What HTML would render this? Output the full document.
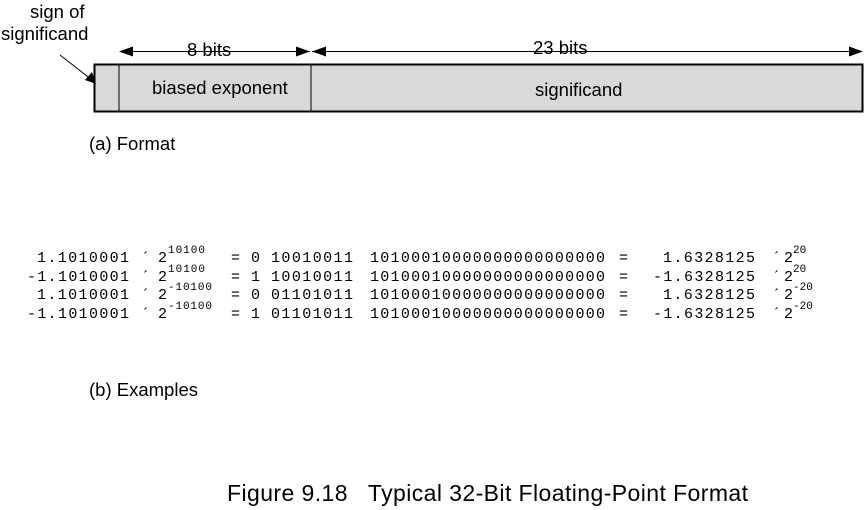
<!DOCTYPE html>
<html><head><style>
body{margin:0;background:#fff;}
svg{display:block}
.s{font-family:"Liberation Sans",Arial,sans-serif;fill:#000}
.m{font-family:"Liberation Mono",monospace;font-size:15px;fill:#000}
.p{font-family:"Liberation Mono",monospace;font-size:11px;fill:#000}
</style></head><body>
<svg width="865" height="510" viewBox="0 0 865 510">
<rect x="94.5" y="64.5" width="768" height="47" fill="#d9d9d9" stroke="#000" stroke-width="2"/>
<line x1="119" y1="64" x2="119" y2="111" stroke="#000"/>
<line x1="311" y1="64" x2="311" y2="111" stroke="#000"/>
<line x1="120" y1="51.5" x2="310" y2="51.5" stroke="#000"/>
<line x1="312" y1="51.5" x2="862" y2="51.5" stroke="#000"/>
<polygon points="119,51.5 133,46.5 133,56.5" fill="#000"/>
<polygon points="310,51.5 296,46.5 296,56.5" fill="#000"/>
<polygon points="312,51.5 326,46.5 326,56.5" fill="#000"/>
<polygon points="863,51.5 849,46.5 849,56.5" fill="#000"/>
<rect x="185" y="38" width="52" height="13" fill="#fff"/>
<text class="s" x="187" y="56" font-size="18.5">8 bits</text>
<rect x="531" y="38" width="59" height="13" fill="#fff"/>
<text class="s" x="533" y="54" font-size="18.5">23 bits</text>
<text class="s" x="152" y="94" font-size="18.5">biased exponent</text>
<text class="s" x="535" y="96" font-size="18.5">significand</text>
<text class="s" x="30" y="18" font-size="18.5">sign of</text>
<text class="s" x="1" y="40" font-size="18.5">significand</text>
<line x1="60" y1="55" x2="92" y2="80" stroke="#000"/>
<polygon points="96,84 85,80 92,72" fill="#000"/>
<text class="s" x="89" y="150" font-size="18.5">(a) Format</text>
<text class="s" x="89" y="396" font-size="18.5">(b) Examples</text>
<text class="s" x="227" y="501" font-size="23" textLength="521" xml:space="preserve">Figure 9.18   Typical 32-Bit Floating-Point Format</text>
<g>
<text class="m" x="37" y="262" textLength="92">1.1010001</text><text class="m" x="141" y="262">´</text><text class="m" x="158" y="262">2</text><text class="p" x="168" y="253" textLength="37">10100</text>
<text class="m" x="231" y="262">=</text><text class="m" x="251" y="262">0</text><text class="m" x="271" y="262" textLength="82">10010011</text><text class="m" x="370" y="262" textLength="235">10100010000000000000000</text>
<text class="m" x="619" y="262">=</text><text class="m" x="663" y="262" textLength="92">1.6328125</text><text class="m" x="772" y="262">´</text><text class="m" x="784" y="262">2</text><text class="p" x="793" y="253">20</text>

<text class="m" x="27" y="281" textLength="102">-1.1010001</text><text class="m" x="141" y="281">´</text><text class="m" x="158" y="281">2</text><text class="p" x="168" y="272" textLength="37">10100</text>
<text class="m" x="231" y="281">=</text><text class="m" x="251" y="281">1</text><text class="m" x="271" y="281" textLength="82">10010011</text><text class="m" x="370" y="281" textLength="235">10100010000000000000000</text>
<text class="m" x="619" y="281">=</text><text class="m" x="653" y="281" textLength="102">-1.6328125</text><text class="m" x="772" y="281">´</text><text class="m" x="784" y="281">2</text><text class="p" x="793" y="272">20</text>

<text class="m" x="37" y="299" textLength="92">1.1010001</text><text class="m" x="141" y="299">´</text><text class="m" x="158" y="299">2</text><text class="p" x="168" y="290" textLength="44">-10100</text>
<text class="m" x="231" y="299">=</text><text class="m" x="251" y="299">0</text><text class="m" x="271" y="299" textLength="82">01101011</text><text class="m" x="370" y="299" textLength="235">10100010000000000000000</text>
<text class="m" x="619" y="299">=</text><text class="m" x="663" y="299" textLength="92">1.6328125</text><text class="m" x="772" y="299">´</text><text class="m" x="784" y="299">2</text><text class="p" x="793" y="290">-20</text>

<text class="m" x="27" y="318" textLength="102">-1.1010001</text><text class="m" x="141" y="318">´</text><text class="m" x="158" y="318">2</text><text class="p" x="168" y="309" textLength="44">-10100</text>
<text class="m" x="231" y="318">=</text><text class="m" x="251" y="318">1</text><text class="m" x="271" y="318" textLength="82">01101011</text><text class="m" x="370" y="318" textLength="235">10100010000000000000000</text>
<text class="m" x="619" y="318">=</text><text class="m" x="653" y="318" textLength="102">-1.6328125</text><text class="m" x="772" y="318">´</text><text class="m" x="784" y="318">2</text><text class="p" x="793" y="309">-20</text>
</g>
</svg>
</body></html>
